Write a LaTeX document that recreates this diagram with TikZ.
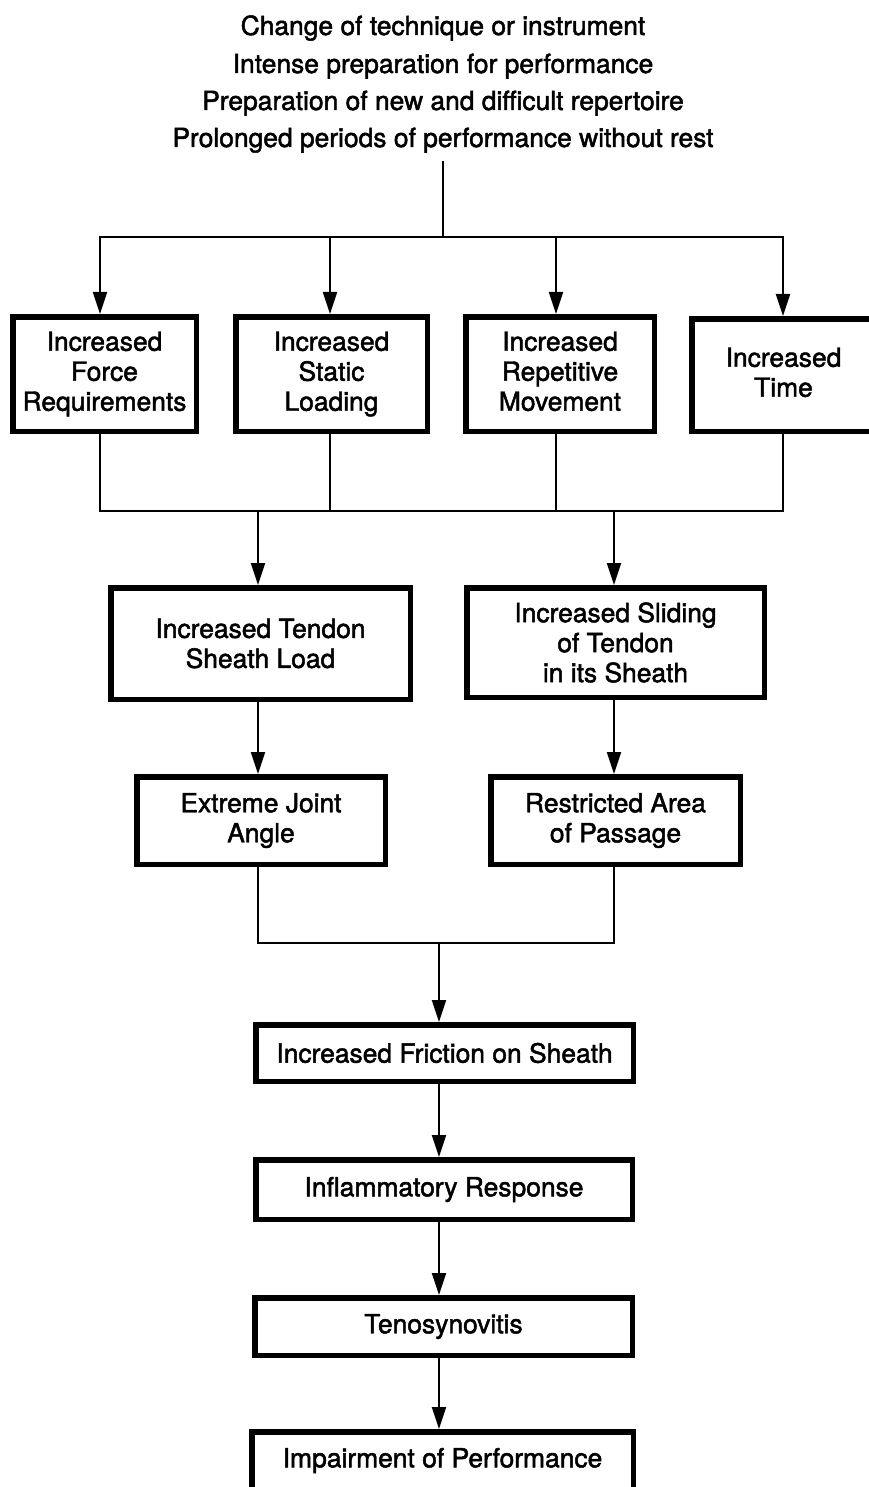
\documentclass[tikz,border=0pt]{standalone}
\usepackage{fontspec}
\setmainfont[FakeBold=1.8]{TeX Gyre Heros}
\usetikzlibrary{arrows.meta}
\begin{document}
\begin{tikzpicture}[x=1pt,y=-1pt,
  txt/.style={font=\fontsize{26.4}{30}\selectfont},
  box/.style={draw, line width=5.5pt, inner sep=0pt, align=center, txt},
  cause/.style={anchor=base, inner sep=0pt, txt},
  conn/.style={line width=2pt, line cap=rect},
  arr/.style={line width=2pt, -{Triangle[length=22pt,width=14pt]}}]
\useasboundingbox (0,0) rectangle (869,1487);
\fill[white] (0,0) rectangle (869,1487);
% causes
\node[cause] (t1) at (443,35) {Change of technique or instrument};
\node[cause] (t2) at (443,73) {Intense preparation for performance};
\node[cause] (t3) at (443,110) {Preparation of new and difficult repertoire};
\node[cause] (t4) at (443,147) {Prolonged periods of performance without rest};
% boxes
\node[box, minimum width=183.5pt, minimum height=114.5pt] (b1) at (104.5,374) {Increased\\Force\\Requirements};
\node[box, minimum width=191.5pt, minimum height=114.5pt] (b2) at (331.5,374) {Increased\\Static\\Loading};
\node[box, minimum width=188.5pt, minimum height=114.5pt] (b3) at (560,374) {Increased\\Repetitive\\Movement\vphantom{y}};
\node[box, minimum width=183.5pt, minimum height=112.5pt] (b4) at (783.5,375) {Increased\\Time\vphantom{y}};
\node[box, minimum width=299.5pt, minimum height=111.5pt] (b5) at (260.5,643.5) {Increased Tendon\\Sheath Load};
\node[box, minimum width=297.5pt, minimum height=109.5pt] (b6) at (615.5,642.5) {Increased Sliding\\of Tendon\\in its Sheath};
\node[box, minimum width=248.5pt, minimum height=87.5pt] (b7) at (261,820.5) {Extreme Joint\\Angle};
\node[box, minimum width=249.5pt, minimum height=87.5pt] (b8) at (615.5,820.5) {Restricted Area\\of Passage};
\node[box, minimum width=377.5pt, minimum height=56.5pt] (b9) at (444.5,1053) {Increased Friction on Sheath};
\node[box, minimum width=376.5pt, minimum height=59.5pt] (b10) at (444,1189.5) {Inflammatory Response};
\node[box, minimum width=377.5pt, minimum height=57.5pt] (b11) at (443.5,1326.5) {Tenosynovitis\vphantom{y}};
\node[box, minimum width=381.5pt, minimum height=57.5pt] (b12) at (442.5,1460.5) {Impairment of Performance};
% top fan-out
\coordinate (top) at (443,162);
\coordinate (s) at (443,237);
\coordinate (a1) at (100,237);
\coordinate (a2) at (330,237);
\coordinate (a3) at (556,237);
\coordinate (a4) at (783,237);
\draw[conn] (top) -- (s);
\draw[conn] (a1) -- (a4);
\foreach \i in {1,2,3,4} {\draw[arr] (a\i) -- (a\i |- b\i.north);}
% merge to second level
\coordinate (m1) at (100,511);
\coordinate (m2) at (330,511);
\coordinate (m3) at (556,511);
\coordinate (m4) at (783,511);
\foreach \i in {1,2,3,4} {\draw[conn] (m\i |- b\i.south) -- (m\i);}
\draw[conn] (m1) -- (m4);
\coordinate (n1) at (258,511);
\coordinate (n2) at (614,511);
\draw[arr] (n1) -- (n1 |- b5.north);
\draw[arr] (n2) -- (n2 |- b6.north);
\draw[arr] (n1 |- b5.south) -- (n1 |- b7.north);
\draw[arr] (n2 |- b6.south) -- (n2 |- b8.north);
% merge to friction
\coordinate (p1) at (258,943);
\coordinate (p2) at (614,943);
\coordinate (p) at (439,943);
\draw[conn] (n1 |- b7.south) -- (p1) -- (p2) -- (n2 |- b8.south);
\draw[arr] (p) -- (p |- b9.north);
\draw[arr] (p |- b9.south) -- (p |- b10.north);
\draw[arr] (p |- b10.south) -- (p |- b11.north);
\draw[arr] (p |- b11.south) -- (p |- b12.north);
\end{tikzpicture}
\end{document}
